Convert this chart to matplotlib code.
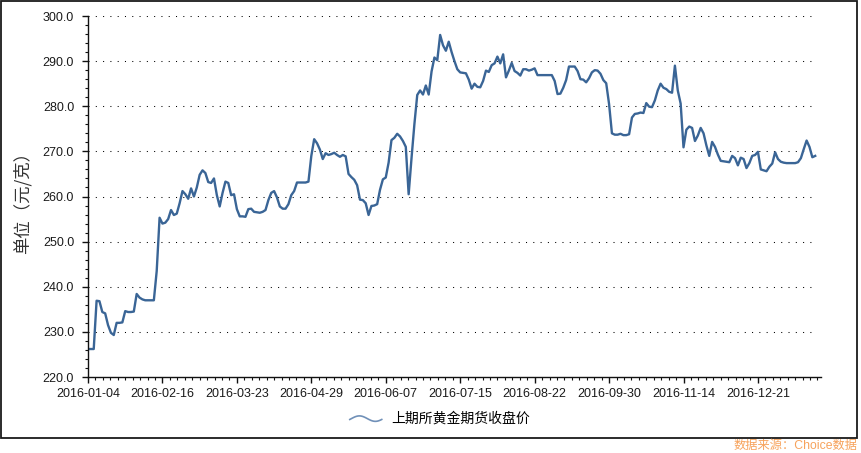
import numpy as np
import matplotlib
matplotlib.use('Agg')
from matplotlib import pyplot as plt
from matplotlib.legend_handler import HandlerBase
from matplotlib.lines import Line2D
from matplotlib.patches import Rectangle
from matplotlib.ticker import MultipleLocator, FormatStrFormatter

plt.rcParams['font.family'] = ['Liberation Sans', 'Noto Sans CJK SC']

# SHFE gold futures close, one value per trading day
prices = [
    226.2, 226.2, 226.2, 236.9, 236.8, 234.4, 234.1, 231.5, 229.8, 229.3,
    232.0, 232.0, 232.1, 234.6, 234.4, 234.4, 234.5, 238.4, 237.6, 237.2,
    237.0, 237.0, 237.0, 237.0, 243.5, 255.3, 254.0, 254.2, 255.0, 257.0,
    255.9, 256.2, 258.5, 261.2, 260.5, 259.5, 261.8, 260.0, 262.0, 264.8,
    265.8, 265.2, 263.2, 263.0, 264.0, 260.3, 257.8, 260.8, 263.3, 263.0,
    260.3, 260.5, 257.2, 255.6, 255.6, 255.5, 257.2, 257.3, 256.6, 256.5,
    256.4, 256.6, 257.0, 259.2, 260.8, 261.2, 259.8, 257.8, 257.3, 257.3,
    258.3, 260.3, 261.2, 263.1, 263.1, 263.1, 263.1, 263.3, 269.0, 272.7,
    271.8, 270.4, 268.3, 269.6, 269.2, 269.4, 269.7, 269.2, 268.8, 269.2,
    268.9, 265.0, 264.3, 263.7, 262.5, 259.3, 259.2, 258.5, 255.9, 257.9,
    258.0, 258.3, 261.5, 263.8, 264.2, 267.5, 272.5, 273.0, 273.9, 273.3,
    272.3, 271.0, 260.5, 268.5, 276.0, 282.5, 283.5, 282.6, 284.6, 282.6,
    287.7, 290.8, 290.2, 295.8, 293.5, 292.3, 294.3, 292.0, 290.0, 288.2,
    287.5, 287.4, 287.3, 285.9, 283.9, 285.0, 284.3, 284.2, 285.6, 287.9,
    287.6, 289.1, 289.5, 291.0, 289.5, 291.5, 286.4, 287.9, 289.6, 287.8,
    287.4, 286.8, 288.2, 288.2, 287.9, 288.1, 288.4, 286.9, 286.9, 286.9,
    286.9, 286.9, 286.9, 285.6, 282.7, 282.8, 284.1, 285.8, 288.8, 288.8,
    288.8, 287.8, 286.0, 285.9, 285.3, 286.2, 287.5, 288.0, 287.9, 287.2,
    285.8, 285.1, 280.5, 274.0, 273.7, 273.7, 273.9, 273.6, 273.6, 273.8,
    277.5, 278.3, 278.4, 278.6, 278.5, 280.7, 279.9, 279.8, 281.3, 283.5,
    285.0, 284.1, 283.8, 283.2, 283.0, 289.0, 283.5, 280.6, 270.9, 274.8,
    275.5, 275.2, 272.3, 273.5, 275.2, 274.0, 271.3, 269.0, 272.1, 271.0,
    269.3, 267.9, 267.8, 267.7, 267.6, 269.0, 268.5, 266.9, 268.6, 268.3,
    266.3, 267.4, 269.0, 269.2, 269.9, 266.0, 265.8, 265.6, 266.6, 267.3,
    269.8, 268.3, 267.7, 267.5, 267.4, 267.4, 267.4, 267.4, 267.6, 268.5,
    270.5, 272.4, 271.0, 268.7, 269.0,
]
tick_labels = ['2016-01-04', '2016-02-16', '2016-03-23', '2016-04-29', '2016-06-07',
               '2016-07-15', '2016-08-22', '2016-09-30', '2016-11-14', '2016-12-21']
tick_step = 26  # trading days between labels
series_name = '上期所黄金期货收盘价'
y_title = '单位（元/克）'
source = '数据来源：Choice数据'

line_color = '#3a6596'


class WaveHandler(HandlerBase):
    # legend glyph drawn as a small wave
    def create_artists(self, legend, orig_handle, xdescent, ydescent,
                       width, height, fontsize, trans):
        t = np.linspace(0, 1, 50)
        x = -xdescent + t * width
        y = -ydescent + height * 0.45 + height * 0.28 * np.sin(2 * np.pi * (t - 0.05))
        ln = Line2D(x, y, color='#7090b8', lw=1.2, transform=trans)
        return [ln]


fig = plt.figure(figsize=(8.62, 4.53), dpi=100)
W, H = 862, 453
ax = fig.add_axes([88 / W, 1 - 377 / H, (821.5 - 88) / W, (377 - 16) / H])

x = np.arange(len(prices))
ln, = ax.plot(x, prices, color=line_color, lw=1.7, label=series_name)

ax.set_ylim(220, 300)
ax.set_xlim(0, 256.2)

ax.yaxis.set_major_locator(MultipleLocator(10))
ax.yaxis.set_minor_locator(MultipleLocator(2))
ax.yaxis.set_major_formatter(FormatStrFormatter('%.1f'))
ticks = np.arange(len(tick_labels)) * tick_step
ax.set_xticks(ticks)
ax.set_xticklabels(tick_labels)
ax.xaxis.set_minor_locator(MultipleLocator(tick_step / 10))

# dotted horizontal grid up to the last data point
for yv in ax.get_yticks():
    if 220 < yv <= 300:
        ax.hlines(yv, 0, len(prices) - 1, colors='black', lw=0.75,
                  linestyles=(0, (1, 6)), zorder=0)

for side in ['top', 'right']:
    ax.spines[side].set_visible(False)
for side in ['left', 'bottom']:
    ax.spines[side].set_linewidth(1.0)
    ax.spines[side].set_color('#111111')

ax.tick_params(axis='both', which='major', length=4, width=1.0, color='#111111',
               labelsize=9, labelcolor='#1a1a1a')
ax.tick_params(axis='both', which='minor', length=2.5, width=0.8, color='#111111')
ax.tick_params(axis='y', which='major', pad=6)
ax.tick_params(axis='x', which='major', pad=4)

fig.text(22 / W, 1 - 199 / H, y_title, rotation=90, ha='center', va='center',
         fontsize=12.5, color='#333333', family=['Noto Sans CJK SC'])

fig.legend(handles=[ln], handler_map={Line2D: WaveHandler()},
           loc='center', bbox_to_anchor=(440 / W, 1 - 419 / H), frameon=False,
           handlelength=2.3, handletextpad=0.7,
           prop={'family': ['Noto Sans CJK SC'], 'size': 10})

fig.patches.append(Rectangle((1 / W, 1 - 437.5 / H), (857.5 - 1) / W, 436.5 / H,
                             transform=fig.transFigure, fill=False,
                             lw=1.3, ec='#1a1a1a'))

fig.text(858 / W, 1 - 446 / H, source, ha='right', va='center', fontsize=8.8,
         color='#f7a35c')

fig.savefig('out.png', dpi=100)
